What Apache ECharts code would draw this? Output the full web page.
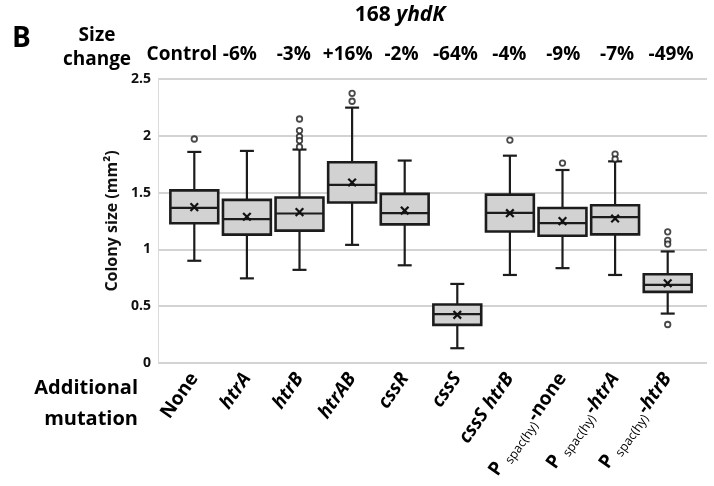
<!DOCTYPE html>
<html>
<head>
<meta charset="utf-8">
<script src="https://cdn.jsdelivr.net/npm/echarts@6/dist/echarts.min.js"></script>
<style>html,body{margin:0;padding:0;background:#fff}#c{width:714px;height:486px}</style>
</head>
<body>
<div id="c"></div>
<script>
// ---- data ----
var categories = ['None', 'htrA', 'htrB', 'htrAB', 'cssR', 'cssS', 'cssS htrB', 'Pspac-none', 'Pspac-htrA', 'Pspac-htrB'];
var sizeChange = ['Control', '-6%', '-3%', '+16%', '-2%', '-64%', '-4%', '-9%', '-7%', '-49%'];
var whiskerLow  = [0.90, 0.745, 0.82, 1.04, 0.86, 0.13, 0.775, 0.835, 0.775, 0.435];
var q1          = [1.23, 1.13, 1.165, 1.413, 1.22, 0.336, 1.158, 1.12, 1.132, 0.626];
var median      = [1.365, 1.266, 1.316, 1.568, 1.32, 0.43, 1.322, 1.231, 1.284, 0.687];
var q3          = [1.52, 1.436, 1.457, 1.767, 1.489, 0.515, 1.482, 1.365, 1.389, 0.781];
var whiskerHigh = [1.858, 1.867, 1.879, 2.248, 1.782, 0.696, 1.825, 1.699, 1.775, 0.982];
var mean        = [1.372, 1.287, 1.328, 1.589, 1.342, 0.424, 1.319, 1.249, 1.272, 0.702];
var outliers = [[0,1.972],[2,2.148],[2,2.046],[2,1.993],[2,1.958],[2,1.902],[3,2.374],[3,2.304],
                [6,1.962],[7,1.760],[8,1.839],[8,1.795],[9,1.155],[9,1.079],[9,1.047],[9,0.339]];
var yTicks = [0, 0.5, 1, 1.5, 2, 2.5];

var FONT = 'Open Sans';
var boxData = categories.map(function (c, i) {
  return [i, whiskerLow[i], q1[i], median[i], q3[i], whiskerHigh[i], mean[i]];
});

var LF = 19;
var labelRich = {
  n: {fontFamily: FONT, fontWeight: 'bold', fontSize: LF, color: '#000'},
  i: {fontFamily: FONT, fontWeight: 'bold', fontStyle: 'italic', fontSize: LF, color: '#000'},
  pn: {fontFamily: FONT, fontWeight: 'bold', fontSize: LF, color: '#000', lineHeight: 25},
  pi: {fontFamily: FONT, fontWeight: 'bold', fontStyle: 'italic', fontSize: LF, color: '#000', lineHeight: 25},
  s: {fontFamily: FONT, fontWeight: 'normal', fontSize: 12.5, lineHeight: 13, color: '#000', verticalAlign: 'bottom', padding: [0, 1, 0, 6]}
};
function catLabel(v) {
  if (v === 'None') return '{n|None}';
  if (v.indexOf('Pspac-') === 0) {
    var g = v.slice(6);
    return '{pn|P}{s|spac(hy)}' + (g === 'none' ? '{pn|-none}' : '{pn|-}{pi|' + g + '}');
  }
  return '{i|' + v + '}';
}
var topRich = {
  t: {fontFamily: FONT, fontWeight: 'bold', fontSize: 19, color: '#000'},
  c: {fontFamily: FONT, fontWeight: 'bold', fontSize: 19, color: '#000', padding: [0, 8, 0, 0]}
};

var chart = echarts.init(document.getElementById('c'), null, {renderer: 'canvas'});
var TOP = 79, BOTTOM = 486 - 363;
chart.setOption({
  animation: false,
  grid: [
    {left: 158, right: 7, top: TOP, bottom: BOTTOM},
    {left: 168, right: 20, top: TOP, bottom: BOTTOM},
    {left: 159, right: 16, top: TOP, bottom: BOTTOM}
  ],
  xAxis: [
    {gridIndex: 0, type: 'value', min: 0, max: 1, show: false},
    {gridIndex: 1, type: 'category', data: categories, position: 'bottom',
     axisLine: {show: false}, axisTick: {show: false},
     axisLabel: {interval: 0, rotate: 55, margin: 12, formatter: catLabel, rich: labelRich}},
    {gridIndex: 2, type: 'category', data: sizeChange, position: 'top',
     axisLine: {show: false}, axisTick: {show: false},
     axisLabel: {interval: 0, margin: 15, rich: topRich,
       formatter: function (v, idx) { return idx === 0 ? '{c|' + v + '}' : '{t|' + v + '}'; }}}
  ],
  yAxis: [
    {gridIndex: 0, type: 'value', min: 0, max: 2.5, interval: 0.5,
     name: 'Colony size (mm\u00B2)', nameLocation: 'middle', nameGap: 37,
     nameTextStyle: {fontFamily: FONT, fontWeight: 'bold', fontSize: 16, color: '#111'},
     axisLine: {show: true, lineStyle: {color: '#dadada', width: 1}},
     axisTick: {show: false},
     axisLabel: {margin: 7, fontFamily: FONT, fontWeight: 'bold', fontSize: 14, color: '#111',
       formatter: function (v) { return yTicks.indexOf(v) >= 0 ? String(v) : ''; }},
     splitLine: {show: true, lineStyle: {color: '#c4c4c4', width: 1.5}}},
    {gridIndex: 1, type: 'value', min: 0, max: 2.5, show: false},
    {gridIndex: 2, type: 'value', min: 0, max: 2.5, show: false}
  ],
  graphic: [
    {type: 'text', left: 12, top: 25, style: {text: 'B', fontFamily: FONT, fontWeight: 'bold', fontSize: 28, fill: '#000'}},
    {type: 'text', x: 97, y: 24, style: {text: 'Size\nchange', textAlign: 'center', lineHeight: 24, fontFamily: FONT, fontWeight: 'bold', fontSize: 19, fill: '#000'}},
    {type: 'text', x: 400, y: 5, style: {text: '168 {i|yhdK}', textAlign: 'center', fontFamily: FONT, fontWeight: 'bold', fontSize: 21, fill: '#000',
      rich: {i: {fontFamily: FONT, fontWeight: 'bold', fontStyle: 'italic', fontSize: 21, fill: '#000'}}}},
    {type: 'text', x: 138, y: 373, style: {text: 'Additional\nmutation', textAlign: 'right', lineHeight: 31, fontFamily: FONT, fontWeight: 'bold', fontSize: 20, fill: '#000'}}
  ],
  series: [
    {
      type: 'custom', xAxisIndex: 1, yAxisIndex: 1,
      encode: {x: 0, y: [1, 2, 3, 4, 5, 6]},
      data: boxData,
      renderItem: function (params, api) {
        var i = api.value(0);
        var pL = api.coord([i, api.value(1)]);
        var p1 = api.coord([i, api.value(2)]);
        var pM = api.coord([i, api.value(3)]);
        var p3 = api.coord([i, api.value(4)]);
        var pH = api.coord([i, api.value(5)]);
        var pA = api.coord([i, api.value(6)]);
        var bw = api.size([1, 0])[0] * 0.91;
        var cw = 14;
        var x = pL[0];
        var st = {stroke: '#1c1c1c', lineWidth: 2.2};
        var a = 3.8;
        return {
          type: 'group',
          children: [
            {type: 'line', shape: {x1: x, y1: pL[1], x2: x, y2: p1[1]}, style: st},
            {type: 'line', shape: {x1: x, y1: p3[1], x2: x, y2: pH[1]}, style: st},
            {type: 'line', shape: {x1: x - cw / 2, y1: pL[1], x2: x + cw / 2, y2: pL[1]}, style: st},
            {type: 'line', shape: {x1: x - cw / 2, y1: pH[1], x2: x + cw / 2, y2: pH[1]}, style: st},
            {type: 'rect', shape: {x: x - bw / 2, y: p3[1], width: bw, height: p1[1] - p3[1]},
             style: {fill: '#d2d2d2', stroke: '#1c1c1c', lineWidth: 2.6}},
            {type: 'line', shape: {x1: x - bw / 2, y1: pM[1], x2: x + bw / 2, y2: pM[1]}, style: st},
            {type: 'line', shape: {x1: x - a, y1: pA[1] - a, x2: x + a, y2: pA[1] + a}, style: {stroke: '#111', lineWidth: 2.2}},
            {type: 'line', shape: {x1: x - a, y1: pA[1] + a, x2: x + a, y2: pA[1] - a}, style: {stroke: '#111', lineWidth: 2.2}}
          ]
        };
      }
    },
    {
      type: 'scatter', xAxisIndex: 1, yAxisIndex: 1,
      data: outliers, symbol: 'circle', symbolSize: 5.5,
      itemStyle: {color: '#fff', borderColor: '#1c1c1c', borderWidth: 1.8}
    }
  ]
});
</script>
</body>
</html>
